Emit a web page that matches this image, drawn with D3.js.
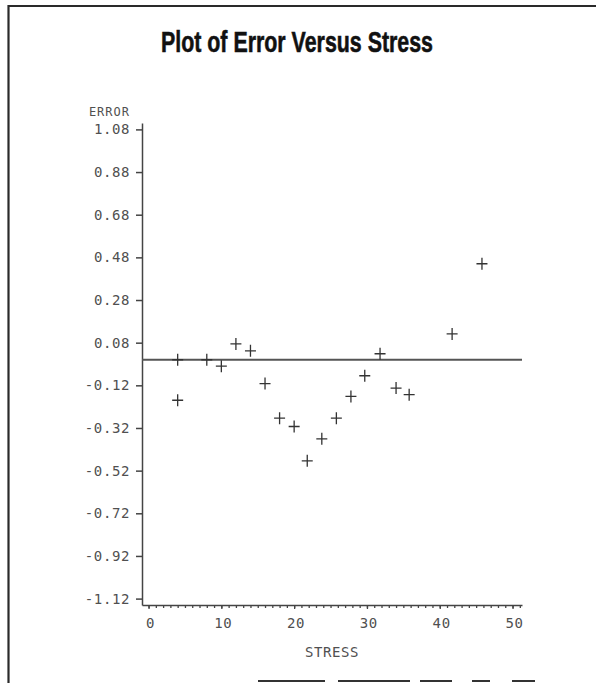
<!DOCTYPE html>
<html>
<head>
<meta charset="utf-8">
<script src="https://cdn.jsdelivr.net/npm/d3@7"></script>
<style>
  html, body { margin: 0; padding: 0; background: #fff; }
  svg { display: block; }
  .lbl { font-family: "DejaVu Sans Mono", "Liberation Mono", monospace; font-size: 14px; fill: #505050; letter-spacing: 0.6px; }
</style>
</head>
<body>
<svg id="chart" width="596" height="683"></svg>
<script>
// Residual errors of the fitted model at each stress level
const stress = [4, 4, 8, 10, 12, 14, 16, 18, 20, 21.8, 23.8, 25.8, 27.8, 29.7, 31.8, 34, 35.8, 41.7, 45.8];
const error  = [0.0, -0.19, 0.0, -0.03, 0.074, 0.042, -0.112, -0.274, -0.313, -0.474, -0.371, -0.274, -0.172, -0.075, 0.028, -0.133, -0.164, 0.121, 0.45];

const yTicks = [1.08, 0.88, 0.68, 0.48, 0.28, 0.08, -0.12, -0.32, -0.52, -0.72, -0.92, -1.12];
const xTicks = [0, 10, 20, 30, 40, 50];
const refLevel = 0;

// plain hyphen for negative numbers, as on a line printer
const fmt = d3.formatLocale({ decimal: ".", thousands: ",", grouping: [3], currency: ["", ""], minus: "-" });

const svg = d3.select("#chart");

// page frame
svg.append("line").attr("x1", 8.5).attr("x2", 8.5).attr("y1", 5).attr("y2", 683)
  .attr("stroke", "#2a2a2a").attr("stroke-width", 2.2);
svg.append("line").attr("x1", 8).attr("x2", 596).attr("y1", 6).attr("y2", 6)
  .attr("stroke", "#2a2a2a").attr("stroke-width", 2.2);
[[258, 325], [338, 410], [420, 452], [472, 490], [512, 535]].forEach(([a, b]) => {
  svg.append("line").attr("x1", a).attr("x2", b).attr("y1", 681).attr("y2", 681)
    .attr("stroke", "#333").attr("stroke-width", 2);
});

// title
svg.append("text")
  .attr("x", 297).attr("y", 52)
  .attr("text-anchor", "middle")
  .attr("textLength", 272).attr("lengthAdjust", "spacingAndGlyphs")
  .style("font-family", "'Liberation Sans', Arial, sans-serif")
  .style("font-weight", "bold").style("font-size", "30px").style("fill", "#111")
  .style("stroke", "#111").style("stroke-width", 0.6)
  .text("Plot of Error Versus Stress");

const x = d3.scaleLinear().domain([-0.9, 51.3]).range([142, 522]);
const y = d3.scaleLinear().domain([-1.15, 1.11]).range([605, 123]);

// y axis
const yAxis = svg.append("g").attr("transform", `translate(${x.range()[0]},0)`)
  .call(d3.axisLeft(y).tickValues(yTicks).tickFormat(fmt.format(".2f")).tickSize(6).tickSizeOuter(0).tickPadding(6));
yAxis.selectAll("path, line").attr("stroke", "#444").attr("stroke-width", 1.5);
yAxis.selectAll("text").attr("class", "lbl").attr("fill", null);
yAxis.attr("font-size", null).attr("font-family", null);

// x axis: minor ticks every unit, labelled major ticks every ten
const xBase = y.range()[0];
const xMinor = svg.append("g").attr("transform", `translate(0,${xBase})`)
  .call(d3.axisBottom(x).tickValues(d3.range(0, 52, 1)).tickFormat("").tickSize(3).tickSizeOuter(0));
xMinor.selectAll("path, line").attr("stroke", "#444").attr("stroke-width", 1.3);
const xMajor = svg.append("g").attr("transform", `translate(0,${xBase})`)
  .call(d3.axisBottom(x).tickValues(xTicks).tickFormat(fmt.format("d")).tickSize(4).tickSizeOuter(0).tickPadding(9));
xMajor.select("path").remove();
xMajor.selectAll("line").attr("stroke", "#444").attr("stroke-width", 1.3);
xMajor.selectAll("text").attr("class", "lbl").attr("fill", null).attr("dx", "0.1em");
xMajor.attr("font-size", null).attr("font-family", null);

// axis titles
svg.append("text").attr("class", "lbl")
  .attr("x", 130).attr("y", 116).attr("text-anchor", "end")
  .style("font-size", "12px").style("letter-spacing", "1px")
  .text("ERROR");
svg.append("text").attr("class", "lbl")
  .attr("x", 332).attr("y", 657).attr("text-anchor", "middle")
  .text("STRESS");

// reference line at zero error
svg.append("line")
  .attr("x1", x.range()[0]).attr("x2", x.range()[1])
  .attr("y1", y(refLevel)).attr("y2", y(refLevel))
  .attr("stroke", "#555").attr("stroke-width", 2);

// plus markers
const pts = stress.map((s, i) => ({ s, e: error[i] }));
svg.append("g").selectAll("path").data(pts).join("path")
  .attr("transform", d => `translate(${x(d.s)},${y(d.e)})`)
  .attr("d", "M-5.5,0H5.5M0,-6V6")
  .attr("stroke", "#333").attr("stroke-width", 1.3).attr("fill", "none");
</script>
</body>
</html>
